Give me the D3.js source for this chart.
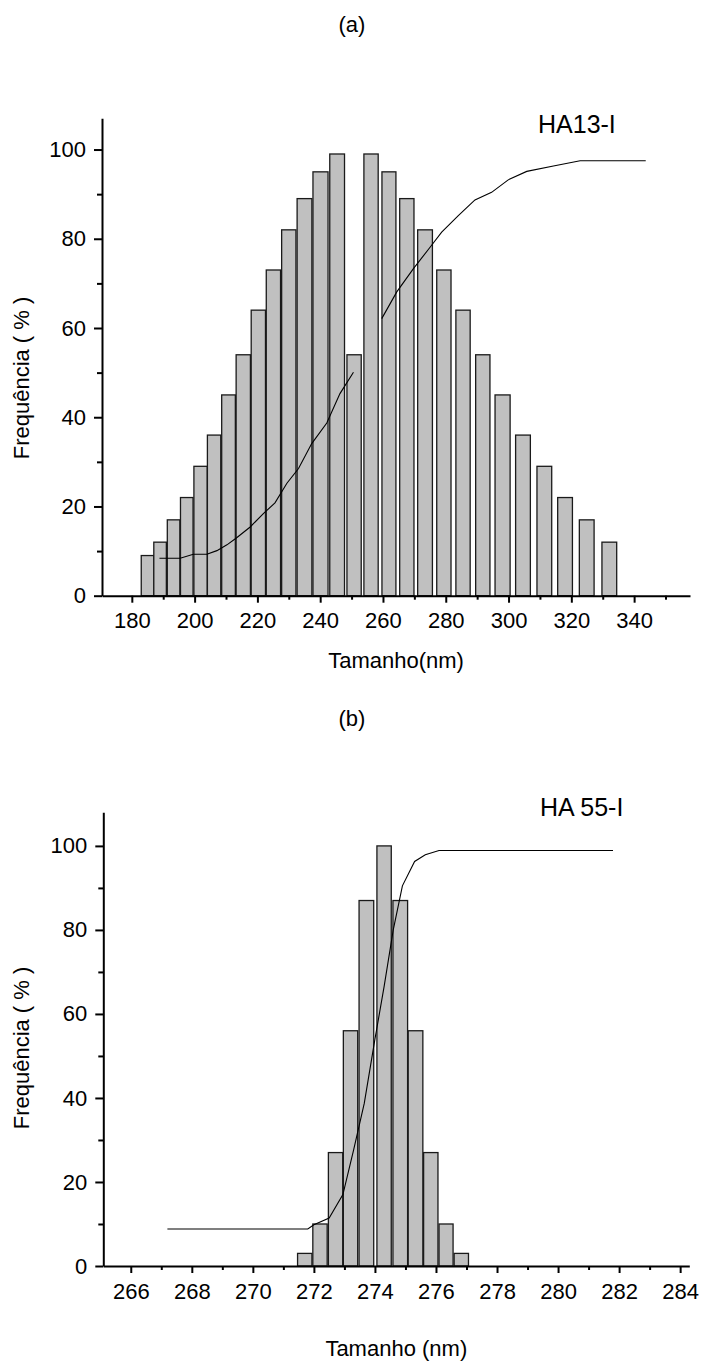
<!DOCTYPE html>
<html>
<head>
<meta charset="utf-8">
<script src="https://cdn.jsdelivr.net/npm/d3@7"></script>
<style>
  html, body { margin: 0; padding: 0; background: #fff; }
  svg { display: block; }
  text { font-family: Arial, "Liberation Sans", sans-serif; fill: #000; }
</style>
</head>
<body>
<svg id="chart" width="703" height="1372"></svg>
<script>
// ---------- Panel (a) data ----------
const aBarCenters = [185.0, 189.0, 193.3, 197.5, 201.9, 206.2, 210.8, 215.5, 220.3, 225.1, 230.0, 235.0, 240.1, 245.4,
                     250.8, 256.2, 261.9, 267.6, 273.4, 279.4, 285.5, 291.8, 298.1, 304.6, 311.4, 318.0, 324.9, 332.1];
const aBarWidths  = [4.0, 4.0, 4.0, 4.0, 4.25, 4.25, 4.35, 4.55, 4.55, 4.55, 4.55, 4.7, 4.8, 4.7,
                     4.55, 4.55, 4.45, 4.55, 4.7, 4.55, 4.55, 4.55, 4.8, 4.7, 4.7, 4.7, 4.7, 4.7];
const aFreq       = [9, 12, 17, 22, 29, 36, 45, 54, 64, 73, 82, 89, 95, 99,
                     54, 99, 95, 89, 82, 73, 64, 54, 45, 36, 29, 22, 17, 12];
const aCum1X = [188.8, 195.4, 199.6, 203.9, 207.1, 210.3, 213.4, 217.7, 221.9, 225.6, 229.4, 233.1, 237.3, 242.1, 246.3, 250.6];
const aCum1Y = [8.4, 8.4, 9.3, 9.3, 10.1, 11.4, 13.0, 15.4, 18.4, 20.8, 25.2, 28.5, 34.1, 38.7, 45.3, 50.1];
const aCum2X = [259.6, 264.4, 269.7, 275.0, 278.7, 284.0, 289.3, 294.6, 299.9, 305.8, 314.3, 322.8, 343.7];
const aCum2Y = [62.1, 68.1, 73.3, 78.1, 81.5, 85.2, 88.7, 90.4, 93.2, 95.1, 96.3, 97.5, 97.5];
const aXTicks = [180, 200, 220, 240, 260, 280, 300, 320, 340];
const aXMinor = [190, 210, 230, 250, 270, 290, 310, 330, 350];
const aYTicks = [0, 20, 40, 60, 80, 100];
const aYMinor = [10, 30, 50, 70, 90];

// ---------- Panel (b) data ----------
const bBarCenters = [271.70, 272.20, 272.71, 273.20, 273.72, 274.30, 274.83, 275.33, 275.83, 276.33, 276.83];
const bBarWidths  = [0.47, 0.47, 0.47, 0.47, 0.48, 0.47, 0.48, 0.48, 0.47, 0.46, 0.47];
const bFreq       = [3, 10, 27, 56, 87, 100, 87, 56, 27, 10, 3];
const bCumX = [267.2, 271.8, 272.0, 272.5, 272.95, 273.3, 273.65, 274.0, 274.3, 274.6, 274.9, 275.3, 275.65, 276.1, 281.8];
const bCumY = [8.8, 8.8, 9.8, 11.4, 17.0, 27.6, 38.7, 54.0, 66.5, 80.0, 90.5, 96.3, 97.9, 98.9, 98.9];
const bXTicks = [266, 268, 270, 272, 274, 276, 278, 280, 282, 284];
const bXMinor = [267, 269, 271, 273, 275, 277, 279, 281, 283];
const bYTicks = [0, 20, 40, 60, 80, 100];
const bYMinor = [10, 30, 50, 70, 90];

const svg = d3.select("#chart");

function drawPanel(cfg) {
  const g = svg.append("g");
  const x = d3.scaleLinear().domain(cfg.xDomain).range([cfg.left, cfg.right]);
  const y = d3.scaleLinear().domain(cfg.yDomain).range([cfg.bottom, cfg.top]);

  g.selectAll("rect.bar").data(cfg.centers).enter().append("rect")
    .attr("class", "bar")
    .attr("x", (d, i) => x(d - cfg.widths[i] / 2))
    .attr("width", (d, i) => x(d + cfg.widths[i] / 2) - x(d - cfg.widths[i] / 2))
    .attr("y", (d, i) => y(cfg.freq[i]))
    .attr("height", (d, i) => y(0) - y(cfg.freq[i]))
    .attr("fill", "#c0c0c0")
    .attr("stroke", "#1a1a1a")
    .attr("stroke-width", 1.3);

  const line = d3.line().x(d => x(d[0])).y(d => y(d[1]));
  cfg.curves.forEach(c => {
    g.append("path")
      .attr("d", line(d3.zip(c[0], c[1])))
      .attr("fill", "none")
      .attr("stroke", "#000")
      .attr("stroke-width", 1.1);
  });

  const xAxis = d3.axisBottom(x).tickValues(cfg.xTicks).tickSize(7).tickSizeOuter(0).tickPadding(10).tickFormat(d3.format("d"));
  const xg = g.append("g").attr("transform", `translate(0,${cfg.bottom})`).call(xAxis);
  const xMin = d3.axisBottom(x).tickValues(cfg.xMinor).tickSize(4).tickSizeOuter(0).tickFormat("");
  const xmg = g.append("g").attr("transform", `translate(0,${cfg.bottom})`).call(xMin);
  xmg.select(".domain").remove();

  const yAxis = d3.axisLeft(y).tickValues(cfg.yTicks).tickSize(8).tickSizeOuter(0).tickPadding(8).tickFormat(d3.format("d"));
  const yg = g.append("g").attr("transform", `translate(${cfg.left},0)`).call(yAxis);
  const yMin = d3.axisLeft(y).tickValues(cfg.yMinor).tickSize(5).tickSizeOuter(0).tickFormat("");
  const ymg = g.append("g").attr("transform", `translate(${cfg.left},0)`).call(yMin);
  ymg.select(".domain").remove();

  [xg, xmg, yg, ymg].forEach(a => {
    a.selectAll("path, line").attr("stroke", "#000").attr("stroke-width", 2);
    a.selectAll("text").attr("font-size", 22).attr("font-family", "Arial, 'Liberation Sans', sans-serif").attr("fill", "#000");
  });

  g.append("text").attr("x", 352).attr("y", cfg.titleY).attr("text-anchor", "middle")
    .attr("font-size", 22).text(cfg.title);
  g.append("text").attr("x", (cfg.left + cfg.right) / 2).attr("y", cfg.xLabelY).attr("text-anchor", "middle")
    .attr("font-size", 22).text(cfg.xLabel);
  g.append("text").attr("transform", `translate(${cfg.yLabelX},${cfg.yLabelCY}) rotate(-90)`)
    .attr("text-anchor", "middle").attr("font-size", 22).text(cfg.yLabel);
  g.append("text").attr("x", cfg.tagX).attr("y", cfg.tagY).attr("font-size", 25).text(cfg.tag);
}

drawPanel({
  xDomain: [170.5, 357.8], yDomain: [0, 107],
  left: 102, right: 690, top: 118.3, bottom: 595.7,
  centers: aBarCenters, widths: aBarWidths, freq: aFreq,
  curves: [[aCum1X, aCum1Y], [aCum2X, aCum2Y]],
  xTicks: aXTicks, xMinor: aXMinor, yTicks: aYTicks, yMinor: aYMinor,
  title: "(a)", titleY: 32,
  xLabel: "Tamanho(nm)", xLabelY: 668,
  yLabel: "Frequência ( % )", yLabelX: 29, yLabelCY: 378,
  tag: "HA13-I", tagX: 538, tagY: 133
});

drawPanel({
  xDomain: [265.1, 284.3], yDomain: [0, 108],
  left: 103.3, right: 689.3, top: 812.3, bottom: 1266,
  centers: bBarCenters, widths: bBarWidths, freq: bFreq,
  curves: [[bCumX, bCumY]],
  xTicks: bXTicks, xMinor: bXMinor, yTicks: bYTicks, yMinor: bYMinor,
  title: "(b)", titleY: 726,
  xLabel: "Tamanho (nm)", xLabelY: 1356,
  yLabel: "Frequência ( % )", yLabelX: 29, yLabelCY: 1048,
  tag: "HA 55-I", tagX: 540, tagY: 816
});
</script>
</body>
</html>
